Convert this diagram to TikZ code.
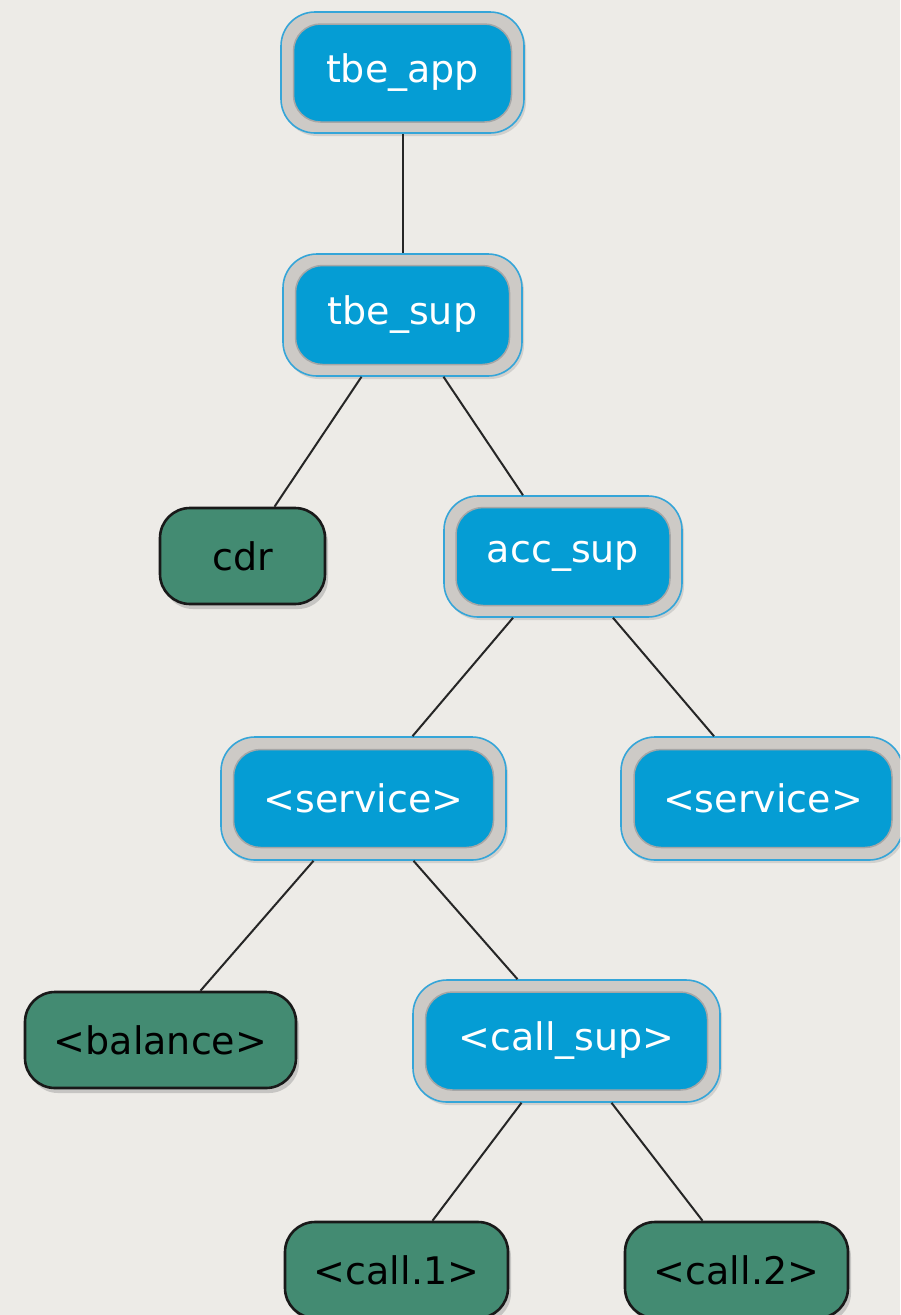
\documentclass[tikz,border=0pt]{standalone}
\usepackage{fontspec}
\newfontfamily\lblfont{DejaVu Sans}
\usetikzlibrary{shadows}
\definecolor{paper}{HTML}{EDEBE7}
\definecolor{supblue}{HTML}{059DD4}
\definecolor{ringgray}{HTML}{CDCAC6}
\definecolor{ringblue}{HTML}{35A5D8}
\definecolor{workgreen}{HTML}{438B72}
\tikzset{
  lbl/.style={font=\lblfont\fontsize{38}{42}\selectfont},
  supouter/.style={draw=ringblue, line width=1.6pt, fill=ringgray, rounded corners=34pt,
    inner sep=0pt, drop shadow={shadow xshift=2pt, shadow yshift=-3pt, opacity=0.25}},
  supinner/.style={lbl, text=white, fill=supblue, draw=black!35, line width=1.5pt,
    rounded corners=27pt, inner sep=0pt},
  worker/.style={lbl, text=black, fill=workgreen, draw=black!90, line width=2.6pt,
    rounded corners=30pt, inner sep=0pt,
    drop shadow={shadow xshift=3pt, shadow yshift=-5pt, opacity=0.35}},
  link/.style={line width=2pt, black!85}
}
\begin{document}
\begin{tikzpicture}[x=1pt,y=-1pt]
\useasboundingbox (0,0) rectangle (900,1315);
\fill[paper] (0,0) rectangle (900,1315);
\begin{scope}
\clip (0,0) rectangle (900,1315);
% supervisors (outer ring + inner box)
\node[supouter, minimum width=243pt, minimum height=121pt] (app) at (402.5,72.5) {};
\node[supinner, minimum width=218pt, minimum height=98pt] (app-in) at (402.5,73) {tbe\_app};

\node[supouter, minimum width=239pt, minimum height=122pt] (sup) at (402.5,315) {};
\node[supinner, minimum width=214pt, minimum height=99pt] (sup-in) at (402.5,315) {tbe\_sup};

\node[supouter, minimum width=238pt, minimum height=121pt] (acc) at (563,556.5) {};
\node[supinner, minimum width=214pt, minimum height=98pt] (acc-in) at (563,556.5) {acc\_sup};

\node[supouter, minimum width=285pt, minimum height=123pt] (srv1) at (363.5,798.5) {};
\node[supinner, minimum width=260pt, minimum height=98pt] (srv1-in) at (363.5,798.5) {<service>};

\node[supouter, minimum width=282pt, minimum height=123pt] (srv2) at (762,798.5) {};
\node[supinner, minimum width=258pt, minimum height=98pt] (srv2-in) at (763,798.5) {<service>};

\node[supouter, minimum width=307pt, minimum height=122pt] (call) at (566.5,1041) {};
\node[supinner, minimum width=282pt, minimum height=98pt] (call-in) at (566.5,1041) {<call\_sup>};

% workers
\node[worker, minimum width=165pt, minimum height=96pt] (cdr) at (242.5,556) {cdr};
\node[worker, minimum width=271pt, minimum height=96pt] (bal) at (160.5,1040) {<balance>};
\node[worker, minimum width=223pt, minimum height=96pt] (c1) at (396.5,1270) {<call.1>};
\node[worker, minimum width=223pt, minimum height=96pt] (c2) at (736.5,1270) {<call.2>};

% links
\draw[link] (app.south) -- (sup.north);
\draw[link] ([xshift=-41pt]sup.south) -- ([xshift=32pt]cdr.north);
\draw[link] ([xshift=41pt]sup.south) -- ([xshift=-40pt]acc.north);
\draw[link] ([xshift=-50pt]acc.south) -- ([xshift=49pt]srv1.north);
\draw[link] ([xshift=50pt]acc.south) -- ([xshift=-48pt]srv2.north);
\draw[link] ([xshift=-50pt]srv1.south) -- ([xshift=40pt]bal.north);
\draw[link] ([xshift=50pt]srv1.south) -- ([xshift=-49pt]call.north);
\draw[link] ([xshift=-45pt]call.south) -- ([xshift=36pt]c1.north);
\draw[link] ([xshift=45pt]call.south) -- ([xshift=-34pt]c2.north);
\end{scope}
\end{tikzpicture}
\end{document}
